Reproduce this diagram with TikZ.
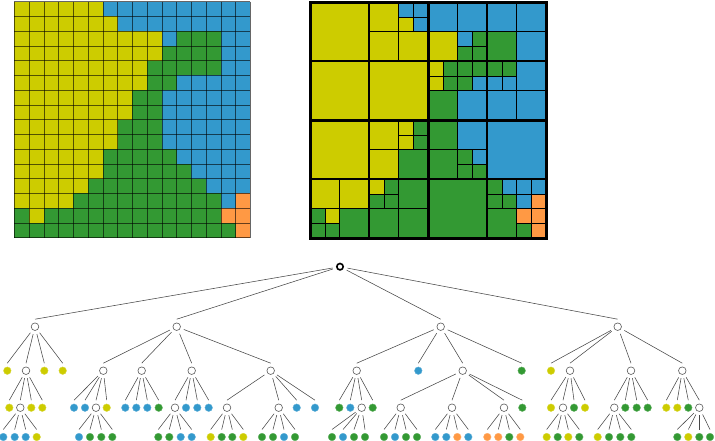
\documentclass[tikz,border=0pt]{standalone}
\usepackage{xcolor}
\usepackage{tikz}

\definecolor{cY}{RGB}{205,204,0}
\definecolor{cB}{RGB}{51,153,204}
\definecolor{cG}{RGB}{51,153,51}
\definecolor{cO}{RGB}{255,153,68}

\begin{document}
\begin{tikzpicture}[x=1pt, y=-1pt,
  leaf/.style={circle, inner sep=0pt, minimum size=7.6pt, draw=#1!75!white, line width=0.4pt, fill=#1},
  lY/.style={leaf=cY}, lB/.style={leaf=cB}, lG/.style={leaf=cG}, lO/.style={leaf=cO},
  inner/.style={circle, inner sep=0pt, minimum size=7.6pt, draw=black!65, line width=0.6pt, fill=white},
  rootnode/.style={circle, inner sep=0pt, minimum size=6.4pt, draw=black, line width=1.6pt, fill=white},
  edge/.style={draw=black!72, line width=0.55pt, shorten <=3.5pt},
  gridline/.style={draw=black, opacity=0.6, line width=0.55pt},
  q1/.style={line width=3.2pt}, q2/.style={line width=2pt},
  q3/.style={line width=1.2pt}, q4/.style={line width=0.7pt}]
  \useasboundingbox (0,0) rectangle (715,441);

  % Imagen 16x16 (izquierda) y su relleno en el quadtree (derecha)
  \foreach \row [count=\r from 0] in {
    {Y,Y,Y,Y,Y,Y,B,B,B,B,B,B,B,B,B,B},
    {Y,Y,Y,Y,Y,Y,Y,B,B,B,B,B,B,B,B,B},
    {Y,Y,Y,Y,Y,Y,Y,Y,Y,Y,B,G,G,G,B,B},
    {Y,Y,Y,Y,Y,Y,Y,Y,Y,Y,G,G,G,G,B,B},
    {Y,Y,Y,Y,Y,Y,Y,Y,Y,G,G,G,G,G,B,B},
    {Y,Y,Y,Y,Y,Y,Y,Y,Y,G,G,B,B,B,B,B},
    {Y,Y,Y,Y,Y,Y,Y,Y,G,G,B,B,B,B,B,B},
    {Y,Y,Y,Y,Y,Y,Y,Y,G,G,B,B,B,B,B,B},
    {Y,Y,Y,Y,Y,Y,Y,G,G,G,B,B,B,B,B,B},
    {Y,Y,Y,Y,Y,Y,Y,G,G,G,B,B,B,B,B,B},
    {Y,Y,Y,Y,Y,Y,G,G,G,G,G,B,B,B,B,B},
    {Y,Y,Y,Y,Y,Y,G,G,G,G,G,G,B,B,B,B},
    {Y,Y,Y,Y,Y,G,G,G,G,G,G,G,G,B,B,B},
    {Y,Y,Y,Y,G,G,G,G,G,G,G,G,G,G,B,O},
    {G,Y,G,G,G,G,G,G,G,G,G,G,G,G,O,O},
    {G,G,G,G,G,G,G,G,G,G,G,G,G,G,G,O}}
    \foreach \c [count=\k from 0] in \row {
      \fill[c\c] (14.3+\k*14.75, 1.7+\r*14.75) rectangle ++(14.75,14.75);
      \fill[c\c] (310.3+\k*14.75, 2.2+\r*14.75) rectangle ++(14.75,14.75);
    }

  % Rejilla de pixeles
  \foreach \i in {0,...,16} {
    \draw[gridline] (14.3+\i*14.75, 1.7) -- ++(0,236);
    \draw[gridline] (14.3, 1.7+\i*14.75) -- ++(236,0);
  }

  % Bordes del quadtree por nivel
  \begin{scope}[shift={(310.3,2.2)}, x=14.75pt, y=-14.75pt]
    \foreach \a/\b in {6/0, 10/2, 8/4, 10/4, 12/4, 6/8, 0/14, 4/12, 10/10, 12/12, 14/12, 14/14}
      \draw[q4] (\a,\b) rectangle ++(2,2) (\a+1,\b) -- ++(0,2) (\a,\b+1) -- ++(2,0);
    \foreach \a/\b in {4/0, 8/0, 12/0, 8/4, 12/4, 4/8, 0/12, 4/12, 8/8, 12/12}
      \draw[q3] (\a,\b) rectangle ++(4,4) (\a+2,\b) -- ++(0,4) (\a,\b+2) -- ++(4,0);
    \foreach \a/\b in {0/0, 8/0, 0/8, 8/8}
      \draw[q2] (\a,\b) rectangle ++(8,8) (\a+4,\b) -- ++(0,8) (\a,\b+4) -- ++(8,0);
    \draw[q1] (0,0) rectangle (16,16) (8,0) -- (8,16) (0,8) -- (16,8);
  \end{scope}

  % Arbol: raiz y nivel 1
  \node[rootnode] (r) at (340,266.7) {};
  \node[inner] (nw) at (35,326.7) {};
  \node[inner] (ne) at (176.7,326.7) {};
  \node[inner] (se) at (440.7,326.7) {};
  \node[inner] (sw) at (617.7,326.7) {};
  \foreach \n in {nw,ne,se,sw}
    \draw[edge] (r) -- ([yshift=7.5pt]\n.center);

  % Nivel 2
  \foreach \n/\x/\s in {nw1/7.3/lY, nw2/26/inner, nw3/44.3/lY, nw4/62.7/lY}
    {\node[\s] (\n) at (\x,370.7) {}; \draw[edge] (nw) -- ([yshift=7.5pt]\n.center);}
  \foreach \n/\x/\s in {ne1/103.3/inner, ne2/141.7/inner, ne3/191.7/inner, ne4/270.7/inner}
    {\node[\s] (\n) at (\x,370.7) {}; \draw[edge] (ne) -- ([yshift=7.5pt]\n.center);}
  \foreach \n/\x/\s in {se1/356.7/inner, se2/418.3/lB, se3/462.7/inner, se4/521.7/lG}
    {\node[\s] (\n) at (\x,370.7) {}; \draw[edge] (se) -- ([yshift=7.5pt]\n.center);}
  \foreach \n/\x/\s in {sw1/551/lY, sw2/570/inner, sw3/631/inner, sw4/682.3/inner}
    {\node[\s] (\n) at (\x,370.7) {}; \draw[edge] (sw) -- ([yshift=7.5pt]\n.center);}

  % Nivel 3
  \foreach \n/\x/\s in {nw21/9.3/lY, nw22/20.3/inner, nw23/31.3/lY, nw24/42.3/lY}
    {\node[\s] (\n) at (\x,407.7) {}; \draw[edge] (nw2) -- ([yshift=7.5pt]\n.center);}
  \foreach \n/\x/\s in {ne11/74/lB, ne12/85/lB, ne13/96/inner, ne14/106.7/lY}
    {\node[\s] (\n) at (\x,407.7) {}; \draw[edge] (ne1) -- ([yshift=7.5pt]\n.center);}
  \foreach \n/\x/\s in {ne21/125.3/lB, ne22/136.3/lB, ne23/147.3/lB, ne24/158.7/lG}
    {\node[\s] (\n) at (\x,407.7) {}; \draw[edge] (ne2) -- ([yshift=7.5pt]\n.center);}
  \foreach \n/\x/\s in {ne31/175/inner, ne32/186/lB, ne33/197.3/lB, ne34/208.7/lB}
    {\node[\s] (\n) at (\x,407.7) {}; \draw[edge] (ne3) -- ([yshift=7.5pt]\n.center);}
  \foreach \n/\x/\s in {ne41/227/inner, ne42/278.7/inner, ne43/296.7/lB, ne44/315/lB}
    {\node[\s] (\n) at (\x,407.7) {}; \draw[edge] (ne4) -- ([yshift=7.5pt]\n.center);}
  \foreach \n/\x/\s in {se11/339.3/lG, se12/350.3/lB, se13/361.7/inner, se14/372.7/lG}
    {\node[\s] (\n) at (\x,407.7) {}; \draw[edge] (se1) -- ([yshift=7.5pt]\n.center);}
  \foreach \n/\x/\s in {se31/400.7/inner, se32/452/inner, se33/504/inner, se34/522.3/lG}
    {\node[\s] (\n) at (\x,407.7) {}; \draw[edge] (se3) -- ([yshift=7.5pt]\n.center);}
  \foreach \n/\x/\s in {sw21/551/lY, sw22/563/inner, sw23/574/lG, sw24/585/lY}
    {\node[\s] (\n) at (\x,407.7) {}; \draw[edge] (sw2) -- ([yshift=7.5pt]\n.center);}
  \foreach \n/\x/\s in {sw31/614.3/inner, sw32/625.3/lG, sw33/636.7/lG, sw34/647.7/lG}
    {\node[\s] (\n) at (\x,407.7) {}; \draw[edge] (sw3) -- ([yshift=7.5pt]\n.center);}
  \foreach \n/\x/\s in {sw41/666.3/lY, sw42/677.3/lY, sw43/688.3/lG, sw44/699.3/inner}
    {\node[\s] (\n) at (\x,407.7) {}; \draw[edge] (sw4) -- ([yshift=7.5pt]\n.center);}

  % Nivel 4 (pixeles sueltos)
  \foreach \p/\xa/\sa/\xb/\sb/\xc/\sc/\xd/\sd in {
      nw22/3.3/lB/14.7/lB/25.7/lB/36.7/lY,
      ne13/79/lB/90/lG/101.3/lG/112.3/lG,
      ne31/158.3/lG/169.3/lG/180.7/lB/191.7/lB,
      ne41/210.7/lY/221.7/lG/232.3/lG/243.3/lY,
      ne42/262/lG/273/lG/284/lB/295/lG,
      se13/332/lG/343/lB/354/lG/365/lG,
      se31/384/lG/395/lB/406/lG/417/lG,
      se32/435.3/lB/446.3/lB/457.3/lO/468.3/lB,
      se33/487.3/lO/498.3/lO/509.3/lG/520.3/lO,
      sw22/546.7/lY/557.7/lG/568.3/lY/579.3/lG,
      sw31/597.7/lY/609/lG/620.3/lG/631.3/lG,
      sw44/677.3/lG/688.3/lY/699.3/lG/710/lG} {
    \node[\sa] (\p-1) at (\xa,437) {};
    \node[\sb] (\p-2) at (\xb,437) {};
    \node[\sc] (\p-3) at (\xc,437) {};
    \node[\sd] (\p-4) at (\xd,437) {};
    \foreach \i in {1,...,4}
      \draw[edge] (\p) -- ([yshift=7.5pt]\p-\i.center);
  }
\end{tikzpicture}
\end{document}
